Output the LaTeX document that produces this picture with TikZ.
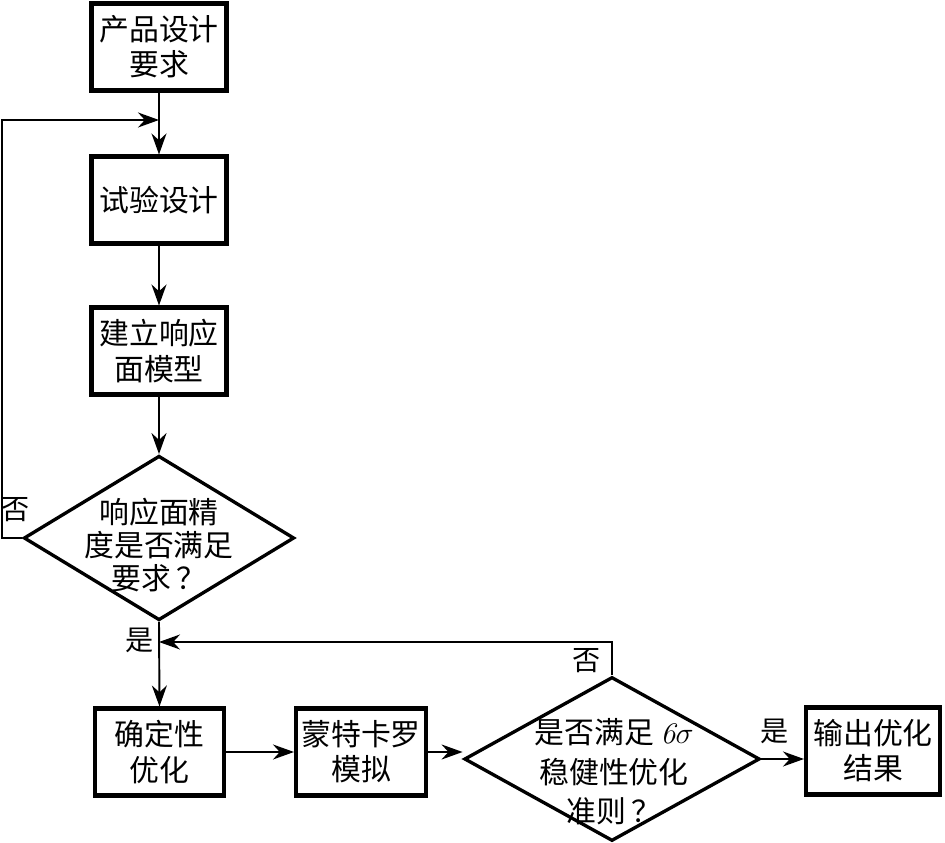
\documentclass[tikz,border=0pt]{standalone}
\usepackage{fontspec}
\newfontfamily\cjk{Noto Sans CJK SC}
\usetikzlibrary{shapes.geometric,arrows.meta,positioning}

\begin{document}
\begin{tikzpicture}[
    x=0.2mm,y=-0.2mm,
    stepbox/.style={draw,line width=2.3pt,minimum width=27mm,minimum height=17.4mm,
      inner sep=0pt,align=center,font=\cjk\fontsize{17}{20}\selectfont},
    judge/.style={draw,diamond,line width=1.9pt,inner sep=0pt,
      minimum width=54.1mm,minimum height=32.9mm},
    judgetext/.style={inner sep=0pt,align=center,font=\cjk\fontsize{17}{19}\selectfont},
    tag/.style={inner sep=0pt,font=\cjk\fontsize{16}{18}\selectfont},
    flow/.style={-{Stealth[length=4.2mm,width=3mm]},line width=1.1pt}
  ]
    \useasboundingbox (0,0) rectangle (945,843);

    \node[stepbox] (req) at (159,47) {产品设计\\要求};
    \node[stepbox] (doe) at (159,200) {试验设计};
    \node[stepbox] (rsm) at (159,351) {建立响应\\面模型};
    \node[judge] (acc) at (159,538) {};
    \node[judgetext] (acctxt) at (159,545) {响应面精\\度是否满足\\要求\,？};
    \node[stepbox,minimum width=25.8mm] (det) at (159.5,752) {确定性\\优化};
    \node[stepbox,minimum width=26mm] (mc) at (361,752) {蒙特卡罗\\模拟};
    \node[judge,minimum width=59.1mm,minimum height=32.8mm] (robust) at (612,759) {};
    \node[judgetext,font=\cjk\fontsize{17}{22.5}\selectfont] (robusttxt) at (614,772)
      {是否满足 {\normalfont\itshape 6}$\sigma$\\稳健性优化\\准则\,？};
    \node[stepbox,minimum width=26.8mm] (out) at (873,751) {输出优化\\结果};

    \coordinate (j1) at (159,120);
    \coordinate (c1) at (2,120);
    \coordinate (j2) at (159,642);

    % 主流程与两条返回线
    \draw[flow] (req.south) -- (doe.north);
    \draw[flow] (doe.south) -- (rsm.north);
    \draw[flow] (rsm.south) -- (acc.north);
    \draw[flow] (acc.south) -- (det.north);
    \draw[flow] (acc.west) -| (c1) -- (j1);
    \draw[flow] (det.east) -- (mc.west);
    \draw[flow] (mc.east) -- (mc.east -| robust.west);
    \draw[flow] (robust.east) -- (robust.east -| out.west);
    \draw[flow] (robust.north) |- (j2);

    \node[tag] (no1) at (16,510) {否};
    \node[tag] (yes1) at (140,640) {是};
    \node[tag] (no2) at (587,661) {否};
    \node[tag] (yes2) at (775,731) {是};
  \end{tikzpicture}
\end{document}
